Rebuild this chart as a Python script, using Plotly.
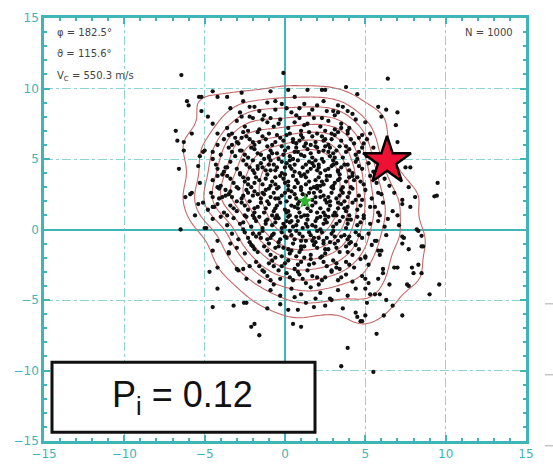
import numpy as np
import plotly.graph_objects as go

# ---------------- data ----------------
upper_left_pts = [(-6.45,10.95),(-4.5,9.8),(-6.1,9.1),(-6.0,8.8),(-5.35,9.4),(-5.2,9.4),(-4.2,9.4),(-3.6,9.4),(-2.7,9.7),
    (-5.2,8.4),(-4.8,8.0),(-4.5,7.5),(-6.8,7.0),(-6.7,6.3),(-6.3,6.2),(-5.8,6.8),(-4.2,6.8),(-6.3,5.6),(-5.3,5.2),(-5.1,5.5),
    (-4.5,5.0),(-6.6,4.3),(-5.4,4.5),(-3.7,4.4),(-5.8,2.6),(-5.9,2.5),(-6.2,2.3),(-5.3,3.3),(-5.1,1.9),(-5.4,1.8),(-5.6,1.0),
    (-6.5,0.0),(-5.0,0.1),(-4.9,0.1),(-4.5,0.75),(-4.2,4.3),(-3.9,2.3),(-4.2,3.0),(-4.5,2.3),(-4.1,2.9),(-4.2,3.8),(-3.9,3.9),
    (-4.5,1.6),(-4.4,1.6),(-3.7,2.4),(-3.4,2.7),(-3.0,6.2),(-2.7,6.5),(-3.3,6.0),(-2.8,5.6),(-2.6,9.1),(-2.2,8.7),(-3.5,6.7),
    (-4.2,6.0),(-5.0,5.6),(-4.5,5.5)]
upper_right_pts = [(-0.1,11.1),(6.4,10.7),(0.2,9.9),(-0.9,9.8),(1.4,9.9),(2.3,9.9),(2.5,9.9),(3.8,10.1),(4.5,9.6),(5.8,8.7),
    (6.3,8.5),(7.0,8.3),(6.0,8.0),(6.9,7.4),(7.0,6.2),(7.5,4.4),(7.8,4.4),(9.5,3.3),(7.7,3.0),(8.1,2.3),(9.3,2.35),(9.45,2.4),
    (6.8,2.6),(7.3,2.1),(7.8,1.6),(7.3,1.8),(6.7,1.3),(7.0,1.0),(8.2,0.0),(0.6,9.4),(-1.1,9.0),(-0.6,9.1),(2.4,9.1),(3.3,8.8),
    (3.9,8.4),(3.0,8.4),(5.3,6.8),(4.8,6.7),(5.1,6.4),(4.9,6.1),(4.5,5.0),(5.8,2.6),(6.1,1.9),(5.6,1.6),(5.9,1.0),(6.4,0.75),
    (3.5,7.2),(3.9,7.0),(5.0,7.6),(5.5,5.8),(5.9,4.8),(6.2,3.6),(5.6,4.0),(6.5,3.1)]
lower_left_pts = [(-4.5,-1.5),(-4.7,-3.0),(-4.2,-2.7),(-4.2,-4.2),(-4.5,-5.5),(-3.2,-5.4),(-2.55,-5.2),(-2.4,-5.2),(-1.1,-5.6),
    (-1.9,-6.7),(-2.1,-6.9),(-1.6,-7.5),(-2.9,-2.9),(-3.5,-1.6),(-3.0,-2.8),(-2.6,-2.8),(-2.2,-2.6),(-2.4,-3.5),(-3.5,-1.7),
    (-3.0,-1.3),(-3.4,-1.0),(-2.0,-1.2),(-4.2,-0.8)]
lower_right_pts = [(0.5,-6.7),(1.0,-6.9),(3.9,-8.4),(3.5,-9.7),(5.5,-10.1),(5.7,-7.4),(6.15,-6.1),(7.3,-6.1),(4.7,-6.5),(4.8,-6.5),
    (5.0,-6.1),(4.4,-5.9),(4.5,-6.2),(6.3,-5.0),(6.7,-5.4),(9.0,-4.6),(9.6,-3.9),(7.6,-3.9),(7.7,-4.0),(8.0,-3.1),(8.5,-3.1),
    (7.9,-2.7),(8.3,-2.5),(8.5,-1.2),(8.6,-1.2),(8.5,-0.45),(7.4,-0.6),(7.7,-1.4),(7.0,-2.7),(5.9,-4.6),(5.3,-4.6),(5.6,-4.6),
    (5.0,-4.2),(5.2,-3.8),(5.0,-3.5),(6.1,-2.8),(6.1,-3.1),(5.8,-3.5),(6.8,-2.7),(6.5,-3.9),(5.9,-1.8),(5.8,-1.5),(5.0,-2.0),
    (5.6,-0.8),(7.1,0.3),(7.3,-0.5),(7.3,-1.0),(8.3,-0.1),(0.8,-5.7),(0.2,-5.7),(1.3,-5.2),(2.5,-5.4),(2.9,-5.0),(-0.3,-5.3),
    (0.6,-4.8),(5.1,-5.2),(3.6,-5.6),(1.8,-5.5)]
core_pts = [
    (-2.8,8.3),(-1.9,8.7),(-1.3,8.1),(-0.6,8.5),(-0.2,8.9),(0.4,8.3),(0.9,8.6),(1.5,8.2),(2.0,8.8),(2.6,8.4),(3.1,8.1),(3.6,8.7),(-3.4,8.6),(1.2,8.9),(4.2,8.2),(-2.2,8.0),
    (-3.6,7.2),(-3.0,7.7),(-2.5,7.3),(-2.0,7.9),(-1.6,7.1),(-1.1,7.6),(-0.7,7.3),(-0.3,7.8),(0.2,7.2),(0.6,7.6),(1.0,7.0),(1.4,7.5),(1.8,7.9),(2.2,7.3),(2.7,7.7),(3.1,7.1),(3.5,7.5),(4.0,7.2),(4.4,7.8),(-2.3,7.0),(0.9,7.9),(2.5,7.0),(-1.4,7.8),
    (-3.8,6.4),(-3.3,6.8),(-2.9,6.1),(-2.4,6.6),(-2.0,6.2),(-1.7,6.9),(-1.2,6.4),(-0.8,6.0),(-0.5,6.7),(-0.1,6.3),(0.3,6.8),(0.7,6.1),(1.1,6.5),(1.5,6.9),(1.9,6.2),(2.3,6.6),(2.7,6.0),(3.1,6.7),(3.5,6.3),(3.9,6.8),(4.3,6.1),(4.6,6.5),(-1.0,6.8),(0.5,6.4),(2.0,6.8),(2.9,6.4),(-2.6,6.9),
    (-4.0,5.3),(-3.5,5.8),(-3.1,5.2),(-2.7,5.6),(-2.3,5.1),(-1.9,5.7),(-1.5,5.3),(-1.1,5.9),(-0.8,5.4),(-0.4,5.0),(0.0,5.6),(0.3,5.2),(0.7,5.8),(1.0,5.3),(1.4,5.7),(1.7,5.1),(2.1,5.5),(2.5,5.9),(2.8,5.2),(3.2,5.6),(3.6,5.1),(4.0,5.7),(4.4,5.3),(4.8,5.8),(5.1,5.2),(-1.3,5.0),(0.5,5.0),(1.9,5.9),(3.4,5.9),(-0.2,5.9),(2.3,5.0),
    (-4.3,4.6),(-3.8,4.1),(-3.4,4.8),(-3.0,4.3),(-2.6,4.9),(-2.2,4.4),(-1.9,4.0),(-1.5,4.7),(-1.2,4.2),(-0.9,4.9),(-0.5,4.4),(-0.2,4.0),(0.1,4.7),(0.4,4.3),(0.8,4.9),(1.1,4.4),(1.4,4.1),(1.7,4.7),(2.0,4.2),(2.4,4.8),(2.7,4.3),(3.0,4.9),(3.3,4.1),(3.7,4.6),(4.0,4.2),(4.4,4.8),(4.8,4.3),(5.2,4.7),(5.5,4.1),(-2.8,4.0),(-0.7,4.6),(0.6,4.1),(1.9,4.9),(3.5,4.4),(-1.7,4.5),(2.2,4.0),
    (-4.5,3.5),(-4.0,3.1),(-3.6,3.8),(-3.2,3.3),(-2.8,3.9),(-2.5,3.4),(-2.1,3.0),(-1.8,3.7),(-1.4,3.2),(-1.1,3.9),(-0.8,3.4),(-0.4,3.0),(-0.1,3.6),(0.2,3.1),(0.5,3.8),(0.8,3.3),(1.2,3.9),(1.5,3.4),(1.8,3.0),(2.1,3.7),(2.4,3.2),(2.8,3.8),(3.1,3.3),(3.4,3.9),(3.8,3.4),(4.1,3.0),(4.5,3.7),(4.9,3.2),(5.3,3.8),(5.7,3.3),(-3.0,3.0),(-1.6,3.5),(0.0,3.9),(1.0,3.0),(2.6,3.5),(3.6,3.0),(-0.6,3.7),(4.3,3.5),
    (-4.6,2.6),(-4.1,2.2),(-3.7,2.8),(-3.3,2.3),(-2.9,2.9),(-2.6,2.4),(-2.2,2.0),(-1.9,2.7),(-1.5,2.2),(-1.2,2.8),(-0.9,2.3),(-0.5,2.9),(-0.2,2.4),(0.1,2.0),(0.4,2.7),(0.7,2.2),(1.0,2.8),(1.3,2.4),(1.6,2.9),(1.9,2.3),(2.2,2.7),(2.5,2.1),(2.9,2.6),(3.2,2.2),(3.5,2.8),(3.9,2.3),(4.2,2.9),(4.6,2.4),(5.0,2.8),(5.4,2.2),(6.0,2.5),(-3.0,2.0),(-0.7,2.6),(0.9,2.0),(2.0,2.9),(3.7,2.0),(-1.7,2.5),(1.5,2.6),(4.4,2.1),(-2.4,2.8),
    (-4.8,1.4),(-4.2,1.8),(-3.8,1.2),(-3.4,1.7),(-3.0,1.3),(-2.7,1.9),(-2.3,1.4),(-2.0,1.0),(-1.7,1.6),(-1.3,1.2),(-1.0,1.8),(-0.7,1.3),(-0.3,1.9),(0.0,1.4),(0.3,1.0),(0.6,1.6),(0.9,1.2),(1.2,1.8),(1.6,1.3),(1.9,1.9),(2.2,1.5),(2.5,1.0),(2.8,1.7),(3.1,1.2),(3.5,1.8),(3.8,1.3),(4.2,1.9),(4.5,1.4),(4.9,1.0),(5.3,1.6),(5.8,1.2),(-2.5,1.0),(-0.5,1.0),(1.4,1.0),(2.6,1.9),(4.0,1.0),(-1.5,1.9),(0.4,1.7),(3.3,1.5),(-3.6,1.0),
    (-4.0,0.9),(-3.6,0.3),(-3.2,0.8),(-2.8,0.4),(-2.4,0.9),(-2.1,0.2),(-1.8,0.6),(-1.4,0.1),(-1.1,0.7),(-0.8,0.3),(-0.4,0.8),(-0.1,0.4),(0.2,0.9),(0.5,0.2),(0.8,0.6),(1.1,0.1),(1.4,0.7),(1.7,0.3),(2.0,0.8),(2.4,0.4),(2.7,0.9),(3.0,0.2),(3.4,0.6),(3.8,0.1),(4.1,0.7),(4.5,0.3),(4.9,0.8),(5.3,0.4),(5.8,0.6),(6.2,0.2),(-2.6,0.0),(-0.6,0.5),(1.0,0.9),(2.2,0.0),(3.6,0.9),(-1.6,0.9),(0.3,0.5),
    (-3.3,-0.3),(-2.9,-0.7),(-2.5,-0.2),(-2.2,-0.9),(-1.8,-0.5),(-1.4,-0.1),(-1.1,-0.7),(-0.7,-0.3),(-0.4,-0.9),(0.0,-0.5),(0.3,-0.1),(0.6,-0.7),(0.9,-0.3),(1.3,-0.8),(1.6,-0.4),(1.9,-0.9),(2.3,-0.2),(2.6,-0.6),(3.0,-0.1),(3.3,-0.8),(3.7,-0.4),(4.1,-0.9),(4.4,-0.2),(4.8,-0.6),(5.2,-0.3),(5.7,-0.8),(6.3,-0.4),(-2.0,-0.3),(-0.2,-0.2),(1.1,-0.5),(2.8,-0.9),(4.0,-0.5),
    (-2.5,-1.7),(-2.1,-1.1),(-1.7,-1.6),(-1.3,-1.2),(-0.9,-1.8),(-0.6,-1.3),(-0.2,-1.9),(0.2,-1.4),(0.5,-1.0),(0.9,-1.6),(1.2,-1.2),(1.6,-1.8),(2.0,-1.3),(2.3,-1.9),(2.7,-1.4),(3.1,-1.0),(3.4,-1.6),(3.8,-1.2),(4.2,-1.8),(4.6,-1.4),(5.0,-1.9),(5.4,-1.1),(6.0,-1.5),(-1.0,-1.0),(0.7,-1.9),(2.4,-1.0),(4.0,-1.0),
    (-1.8,-2.3),(-1.4,-2.9),(-1.0,-2.4),(-0.6,-2.0),(-0.2,-2.6),(0.2,-2.2),(0.6,-2.8),(1.0,-2.3),(1.4,-2.9),(1.8,-2.4),(2.2,-2.0),(2.6,-2.6),(3.0,-2.2),(3.4,-2.8),(3.8,-2.3),(4.3,-2.7),(4.7,-2.1),(5.2,-2.5),(-0.4,-2.9),(1.6,-2.1),(2.9,-2.9),
    (-1.6,-3.7),(-1.1,-3.3),(-0.7,-3.9),(-0.3,-3.5),(0.1,-3.1),(0.5,-3.6),(0.9,-3.2),(1.3,-3.8),(1.7,-3.3),(2.1,-3.9),(2.5,-3.4),(2.9,-3.0),(3.3,-3.6),(3.8,-3.2),(4.2,-3.7),(4.8,-3.3),(-1.3,-3.0),
    (-0.9,-4.3),(-0.3,-4.7),(0.4,-4.2),(1.0,-4.6),(1.6,-4.1),(2.2,-4.5),(2.8,-4.9),(3.3,-4.3),(3.9,-4.7),(4.4,-4.2),(1.9,-4.9)]
center_pts = [(-1.7,4.3),(-0.9,3.1),(0.3,4.5),(1.2,5.2),(2.3,3.4),(3.0,4.6),(-0.4,2.2),(0.8,1.5),(1.7,2.1),(2.6,0.5),(-1.2,0.6),(0.1,-0.6),
    (1.5,-0.2),(3.2,1.0),(-0.5,5.4),(2.0,5.8),(0.6,3.0),(1.3,3.7),(2.9,3.0),(-1.9,1.5),(0.0,0.2),(1.0,-1.2),(2.1,-0.6),(3.6,2.6),(-1.4,2.6),
    (0.5,6.2),(1.8,4.5),(2.7,5.5),(-0.2,4.8),(1.1,2.5),(2.4,1.2),(3.4,3.6),(-0.8,-0.4),(0.7,0.3),(1.9,0.6),(3.9,0.4),(-2.3,3.6),(-1.0,5.1),
    (0.2,3.4),(1.6,6.0),(2.2,2.3),(3.1,5.1),(-0.6,1.5),(0.9,4.0),(2.0,3.1),(1.4,0.2),(-1.5,-0.6),(0.4,-1.5),(2.5,-1.4),(3.5,-0.5),
    (-1.1,2.0),(0.1,1.2),(1.2,1.0),(2.8,2.0),(3.7,1.5),(4.2,3.8),(-0.3,6.5),(1.0,6.7),(2.4,6.3),(0.6,5.5),(-1.6,6.2),(3.8,5.5),(1.5,4.8),
    (0.2,2.8),(-0.9,4.2),(2.1,4.4),(3.3,4.2),(-2.0,4.9),(0.4,0.6),(1.7,-0.8),(2.9,-0.3),(-0.1,-1.3),(1.2,-2.0),(3.2,-2.4),
    (0.8,-3.0),(2.0,-3.4),(-0.7,-2.6),(4.5,0.9)]
dense_pts = [
    (-2.7,8.0),(-1.6,8.4),(-0.9,7.9),(0.1,8.6),(0.7,8.1),(1.7,8.5),(2.3,7.9),(3.3,8.3),(-0.4,7.5),(1.2,7.4),
    (-3.1,6.5),(-2.2,6.4),(-1.4,6.6),(-0.6,6.2),(0.1,6.7),(0.9,6.3),(1.7,6.6),(2.5,6.4),(3.3,6.9),(4.1,6.4),(-1.9,6.0),(1.3,6.1),(2.9,6.8),
    (-3.3,5.5),(-2.5,5.3),(-1.7,5.4),(-0.9,5.6),(-0.1,5.3),(0.8,5.5),(1.6,5.4),(2.4,5.6),(3.0,5.4),(3.8,5.9),(4.6,5.5),(-2.1,5.8),(0.2,5.8),(1.2,5.9),(2.8,5.8),(-1.0,5.2),
    (-3.6,4.4),(-2.4,4.6),(-1.4,4.4),(-0.6,4.2),(0.0,4.4),(0.6,4.6),(1.3,4.6),(2.1,4.6),(2.9,4.5),(3.9,4.6),(4.6,4.5),(-2.0,4.2),(-1.0,4.6),(1.6,4.3),(2.5,4.2),(3.2,4.7),(0.3,4.9),(4.2,4.0),
    (-3.4,3.6),(-2.6,3.7),(-1.9,3.3),(-1.2,3.6),(-0.6,3.2),(0.0,3.3),(0.7,3.5),(1.3,3.2),(1.9,3.5),(2.6,3.8),(3.3,3.5),(4.0,3.7),(4.7,3.4),(-2.3,3.2),(-0.3,3.8),(1.0,3.8),(2.2,3.1),(3.0,3.1),
    (-3.5,2.5),(-2.7,2.2),(-2.0,2.4),(-1.3,2.5),(-0.6,2.2),(0.0,2.6),(0.6,2.5),(1.2,2.1),(1.8,2.6),(2.4,2.4),(3.0,2.9),(3.4,2.4),(4.0,2.6),(4.8,2.1),(-1.0,2.9),(0.3,2.3),(2.7,2.3),(-2.3,2.6),
    (-3.2,1.5),(-2.5,1.7),(-1.9,1.2),(-1.2,1.5),(-0.5,1.7),(0.2,1.3),(0.8,1.8),(1.4,1.5),(2.0,1.2),(2.7,1.4),(3.3,1.9),(3.9,1.6),(4.7,1.7),(-0.8,1.0),(1.7,1.7),(3.0,1.0),
    (-2.6,0.5),(-1.9,0.8),(-1.2,0.4),(-0.6,0.8),(0.1,0.6),(0.7,0.9),(1.3,0.4),(1.9,0.2),(2.5,0.7),(3.2,0.4),(3.9,0.7),(4.7,0.5),(-0.2,0.1),(2.2,0.9),
    (-2.3,-0.6),(-1.6,-0.3),(-0.9,-0.6),(-0.3,-0.7),(0.4,-0.4),(1.0,-0.8),(1.8,-0.6),(2.4,-0.8),(3.1,-0.5),(3.9,-0.7),(4.6,-0.4),(0.7,-0.1),(2.0,-0.1),
    (-1.9,-1.4),(-1.1,-1.5),(-0.4,-1.2),(0.3,-1.7),(1.0,-1.4),(1.8,-1.1),(2.5,-1.7),(3.2,-1.3),(3.9,-1.6),(4.4,-1.1),
    (-1.6,-2.6),(-0.8,-2.2),(0.0,-2.4),(0.8,-2.5),(1.5,-2.5),(2.4,-2.3),(3.2,-2.7),(4.0,-2.5),
    (-0.9,-3.6),(0.3,-3.4),(1.1,-3.5),(2.3,-3.6),(3.5,-3.4)]

target_xy = (6.35, 4.85)      # red star
mean_xy = (1.25, 2.0)         # green marker

info_lines = ["φ = 182.5°", "ϑ = 115.6°", "V<sub>C</sub> = 550.3 m/s"]
n_label = "N = 1000"
prob_label = "P<sub>i</sub> = 0.12"
tick_vals = [-15, -10, -5, 0, 5, 10, 15]
tick_text = ["−15", "−10", "−5", "0", "5", "10", "15"]

all_pts = upper_left_pts + upper_right_pts + lower_left_pts + lower_right_pts + core_pts + center_pts + dense_pts
px = np.array([p[0] for p in all_pts])
py = np.array([p[1] for p in all_pts])

# density contours estimated from the points
gx = np.linspace(-15, 15, 151)
gy = np.linspace(-15, 15, 151)
GX, GY = np.meshgrid(gx, gy)
h = 1.05
dens = np.zeros_like(GX)
for xi, yi in zip(px, py):
    dens += np.exp(-((GX - xi) ** 2 + (GY - yi) ** 2) / (2 * h * h))
dens /= dens.max()

TEAL = "#3fb5b5"
GRID = "#8fd3d3"
RED_LINE = "#c46a6a"

fig = go.Figure()
fig.add_trace(go.Contour(x=gx, y=gy, z=dens, showscale=False, hoverinfo="skip",
                         contours=dict(start=0.13, end=0.95, size=0.105, coloring="lines"),
                         colorscale=[[0, RED_LINE], [1, RED_LINE]], line=dict(width=1.1)))
fig.add_trace(go.Scatter(x=px, y=py, mode="markers",
                         marker=dict(size=4.3, color="#111111"), hoverinfo="skip"))
fig.add_trace(go.Scatter(x=[mean_xy[0]], y=[mean_xy[1]], mode="markers",
                         marker=dict(symbol="star", size=12, color="#2fb52f", line=dict(width=0))))
fig.add_trace(go.Scatter(x=[target_xy[0]], y=[target_xy[1]], mode="markers",
                         marker=dict(symbol="star", size=36, color="#ee1133", line=dict(width=2.5, color="black"))))

axis_common = dict(range=[-15, 15], tickvals=tick_vals, ticktext=tick_text,
                   showline=True, linecolor=TEAL, linewidth=2.5, mirror="allticks",
                   ticks="inside", ticklen=6, tickcolor=TEAL, tickwidth=1.5,
                   showgrid=True, gridcolor=GRID, griddash="dashdot", gridwidth=1,
                   zeroline=True, zerolinecolor=TEAL, zerolinewidth=1.5,
                   tickfont=dict(family="DejaVu Sans", size=12, color=TEAL),
                   minor=dict(dtick=1, ticks="inside", ticklen=3, tickcolor=TEAL, showgrid=False),
                   fixedrange=True)
fig.update_xaxes(**axis_common)
fig.update_yaxes(**axis_common)

annotations = []
for i, t in enumerate(info_lines):
    annotations.append(dict(text=t, xref="paper", yref="paper", x=0.022, y=[0.966, 0.916, 0.862][i],
                            xanchor="left", yanchor="middle", showarrow=False,
                            font=dict(family="DejaVu Sans", size=10, color="#444444")))
annotations.append(dict(text=n_label, xref="paper", yref="paper", x=0.977, y=0.966, xanchor="right",
                        yanchor="middle", showarrow=False, font=dict(family="DejaVu Sans", size=10, color="#444444")))
annotations.append(dict(text=prob_label, xref="paper", yref="paper", x=0.288, y=0.104, xanchor="center",
                        yanchor="middle", showarrow=False, font=dict(family="Liberation Sans", size=36, color="#111111")))

shapes = [dict(type="rect", xref="paper", yref="paper", x0=(52 - 44) / 482, x1=(315 - 44) / 482,
               y0=(452 - 443) / 441, y1=(452 - 370) / 441, fillcolor="white",
               line=dict(color="#111111", width=3), layer="above")]
for yy in [309, 383, 457]:
    shapes.append(dict(type="line", xref="paper", yref="paper", x0=(545 - 44) / 482, x1=(553 - 44) / 482,
                       y0=(452 - yy) / 441, y1=(452 - yy) / 441, line=dict(color="#aaaaaa", width=1)))

fig.update_layout(width=553, height=472, margin=dict(l=44, r=27, t=11, b=20),
                  paper_bgcolor="white", plot_bgcolor="white", showlegend=False,
                  annotations=annotations, shapes=shapes)

fig.write_html("out.html")
